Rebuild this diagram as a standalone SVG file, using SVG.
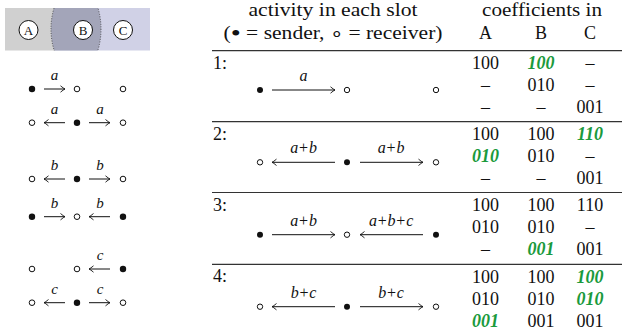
<svg xmlns="http://www.w3.org/2000/svg" width="624" height="335" viewBox="0 0 624 335">
<style>
text{font-family:"Liberation Serif","Times New Roman",serif;fill:#111}
.h{font-size:18px}
.n{font-size:18px;text-anchor:middle}
.g{fill:#1a9a3c;font-style:italic;font-weight:bold}
.lbl{font-size:16px;font-style:italic;text-anchor:middle}
.sl{font-size:15px;font-style:italic;text-anchor:middle}
.cl{font-size:13px;text-anchor:middle}
.fd{fill:#111}
.od{fill:#fff;stroke:#111;stroke-width:1}
.ar{fill:none;stroke:#111;stroke-width:1;marker-end:url(#ah)}
.rule{stroke:#333;stroke-width:1.2}
</style>
<defs>
<marker id="ah" markerUnits="userSpaceOnUse" markerWidth="12" markerHeight="12" viewBox="-6 -6 12 12" refX="0" refY="0" orient="auto">
<path d="M-4.5,-3.2 Q-1.5,-0.6 0,0 Q-1.5,0.6 -4.5,3.2" fill="none" stroke="#111" stroke-width="0.9"/>
</marker>
<clipPath id="lc"><rect x="5" y="8" width="145" height="42.5"/></clipPath>
</defs>

<g id="legend">
<rect x="5" y="8" width="50" height="42.5" fill="#d0d0d0"/>
<rect x="55" y="8" width="95" height="42.5" fill="#d0d1e6"/>
<ellipse cx="76" cy="29" rx="25" ry="44" fill="#a3a5b9" stroke="#333" stroke-width="0.8" stroke-dasharray="1 1.5" clip-path="url(#lc)"/>
<g id="nodeA"><circle cx="28.5" cy="30" r="9.5" fill="#fff" stroke="#111" stroke-width="1"/><text class="cl" x="28.5" y="34.5">A</text></g>
<g id="nodeB"><circle cx="83" cy="30" r="9.5" fill="#fff" stroke="#111" stroke-width="1"/><text class="cl" x="83" y="34.5">B</text></g>
<g id="nodeC"><circle cx="123" cy="30" r="9.5" fill="#fff" stroke="#111" stroke-width="1"/><text class="cl" x="123" y="34.5">C</text></g>
</g>

<g id="left-nodes">
<g id="L1"><circle class="fd" cx="32" cy="89" r="3.2"/><circle class="od" cx="77" cy="89" r="2.8"/><circle class="od" cx="123" cy="89" r="2.8"/><text class="sl" x="54.5" y="80">a</text></g>
<g id="L2"><circle class="od" cx="32" cy="122.7" r="2.8"/><circle class="fd" cx="77" cy="122.7" r="3.2"/><circle class="od" cx="123" cy="122.7" r="2.8"/><text class="sl" x="54.5" y="113.7">a</text><text class="sl" x="100" y="113.7">a</text></g>
<g id="L3"><circle class="od" cx="32" cy="179" r="2.8"/><circle class="fd" cx="77" cy="179" r="3.2"/><circle class="od" cx="123" cy="179" r="2.8"/><text class="sl" x="54.5" y="170">b</text><text class="sl" x="100" y="170">b</text></g>
<g id="L4"><circle class="fd" cx="32" cy="216.7" r="3.2"/><circle class="od" cx="77" cy="216.7" r="2.8"/><circle class="fd" cx="123" cy="216.7" r="3.2"/><text class="sl" x="54.5" y="207.7">b</text><text class="sl" x="100" y="207.7">b</text></g>
<g id="L5"><circle class="od" cx="32" cy="269" r="2.8"/><circle class="od" cx="77" cy="269" r="2.8"/><circle class="fd" cx="123" cy="269" r="3.2"/><text class="sl" x="100" y="260">c</text></g>
<g id="L6"><circle class="od" cx="32" cy="302.7" r="2.8"/><circle class="fd" cx="77" cy="302.7" r="3.2"/><circle class="od" cx="123" cy="302.7" r="2.8"/><text class="sl" x="54.5" y="293.7">c</text><text class="sl" x="100" y="293.7">c</text></g>
</g>

<g id="table-header">
<text class="h" x="333" y="16" text-anchor="middle" textLength="169" lengthAdjust="spacingAndGlyphs">activity in each slot</text>
<text class="h" x="333" y="39" text-anchor="middle" textLength="219" lengthAdjust="spacingAndGlyphs">(<tspan font-size="24" dy="2">•</tspan><tspan dy="-2"> = sender, ∘ = receiver)</tspan></text>
<text class="h" x="542" y="16" text-anchor="middle" textLength="120" lengthAdjust="spacingAndGlyphs">coefficients in</text>
<text class="n" x="485.5" y="39">A</text>
<text class="n" x="541" y="39">B</text>
<text class="n" x="590" y="39">C</text>
<line class="rule" x1="212" y1="50.7" x2="622" y2="50.7"/>
<line class="rule" x1="212" y1="121.7" x2="622" y2="121.7"/>
<line class="rule" x1="212" y1="192.5" x2="622" y2="192.5"/>
<line class="rule" x1="212" y1="264.3" x2="622" y2="264.3"/>
</g>

<g id="slot1">
<text class="h" x="213" y="69">1:</text>
<circle class="fd" cx="260" cy="90" r="3"/><circle class="od" cx="347" cy="90" r="2.7"/><circle class="od" cx="436" cy="90" r="2.7"/>
<text class="lbl" x="303.5" y="81">a</text>
<text class="n" x="485.5" y="69">100</text><text class="n g" x="541" y="69">100</text><text class="n" x="590" y="69">–</text>
<text class="n" x="485.5" y="91">–</text><text class="n" x="541" y="91">010</text><text class="n" x="590" y="91">–</text>
<text class="n" x="485.5" y="113">–</text><text class="n" x="541" y="113">–</text><text class="n" x="590" y="113">001</text>
</g>

<g id="slot2">
<text class="h" x="213" y="140">2:</text>
<circle class="od" cx="260" cy="162.3" r="2.7"/><circle class="fd" cx="347" cy="162.3" r="3"/><circle class="od" cx="436" cy="162.3" r="2.7"/>
<text class="lbl" x="304" y="153.3" letter-spacing="0.8">a<tspan font-style="normal">+</tspan>b</text>
<text class="lbl" x="391.5" y="153.3" letter-spacing="0.8">a<tspan font-style="normal">+</tspan>b</text>
<text class="n" x="485.5" y="140">100</text><text class="n" x="541" y="140">100</text><text class="n g" x="590" y="140">110</text>
<text class="n g" x="485.5" y="162">010</text><text class="n" x="541" y="162">010</text><text class="n" x="590" y="162">–</text>
<text class="n" x="485.5" y="184">–</text><text class="n" x="541" y="184">–</text><text class="n" x="590" y="184">001</text>
</g>

<g id="slot3">
<text class="h" x="213" y="211">3:</text>
<circle class="fd" cx="260" cy="234.7" r="3"/><circle class="od" cx="347" cy="234.7" r="2.7"/><circle class="fd" cx="436" cy="234.7" r="3"/>
<text class="lbl" x="304" y="225.7" letter-spacing="0.8">a<tspan font-style="normal">+</tspan>b</text>
<text class="lbl" x="391.5" y="225.7" letter-spacing="0.8">a<tspan font-style="normal">+</tspan>b<tspan font-style="normal">+</tspan>c</text>
<text class="n" x="485.5" y="211">100</text><text class="n" x="541" y="211">100</text><text class="n" x="590" y="211">110</text>
<text class="n" x="485.5" y="233">010</text><text class="n" x="541" y="233">010</text><text class="n" x="590" y="233">–</text>
<text class="n" x="485.5" y="255">–</text><text class="n g" x="541" y="255">001</text><text class="n" x="590" y="255">001</text>
</g>

<g id="slot4">
<text class="h" x="213" y="282">4:</text>
<circle class="od" cx="260" cy="306.7" r="2.7"/><circle class="fd" cx="347" cy="306.7" r="3"/><circle class="od" cx="436" cy="306.7" r="2.7"/>
<text class="lbl" x="304" y="297.7" letter-spacing="0.8">b<tspan font-style="normal">+</tspan>c</text>
<text class="lbl" x="391.5" y="297.7" letter-spacing="0.8">b<tspan font-style="normal">+</tspan>c</text>
<text class="n" x="485.5" y="283">100</text><text class="n" x="541" y="283">100</text><text class="n g" x="590" y="283">100</text>
<text class="n" x="485.5" y="305">010</text><text class="n" x="541" y="305">010</text><text class="n g" x="590" y="305">010</text>
<text class="n g" x="485.5" y="326.5">001</text><text class="n" x="541" y="326.5">001</text><text class="n" x="590" y="326.5">001</text>
</g>

<g id="connectors">
<path class="ar" d="M44,89 H65"/>
<path class="ar" d="M65,122.7 H44"/><path class="ar" d="M89,122.7 H110"/>
<path class="ar" d="M65,179 H44"/><path class="ar" d="M89,179 H110"/>
<path class="ar" d="M44,216.7 H65"/><path class="ar" d="M110,216.7 H89"/>
<path class="ar" d="M110,269 H89"/>
<path class="ar" d="M65,302.7 H44"/><path class="ar" d="M89,302.7 H110"/>
<path class="ar" d="M272,90 H335"/>
<path class="ar" d="M335,162.3 H272"/><path class="ar" d="M360,162.3 H423"/>
<path class="ar" d="M272,234.7 H335"/><path class="ar" d="M423,234.7 H360"/>
<path class="ar" d="M335,306.7 H272"/><path class="ar" d="M360,306.7 H423"/>
</g>
</svg>
